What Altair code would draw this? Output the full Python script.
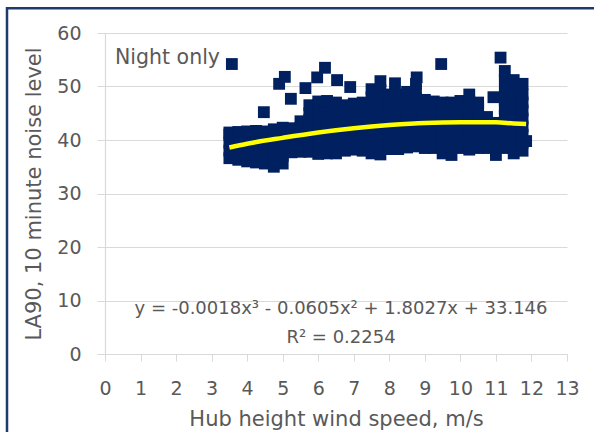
import altair as alt
import pandas as pd

# ---- data ----
# dense cloud: one x column with the y values stacked in it
col_x = [3.5, 3.75, 4.0, 4.25, 4.5, 4.75, 5.0, 5.25, 5.5, 5.75, 6.0, 6.25, 6.5, 6.75,
         7.0, 7.25, 7.5, 7.75, 8.0, 8.25, 8.5, 8.75, 9.0, 9.25, 9.5, 9.75, 10.0,
         10.25, 10.5, 10.75, 11.0, 11.25, 11.5, 11.75]
col_y = [
    [36.6, 38.0, 39.5, 41.0, 41.4],
    [36.3, 37.8, 39.3, 40.8, 41.5],
    [36.0, 37.5, 39.0, 40.5, 41.6],
    [35.8, 37.3, 38.8, 40.3, 41.7],
    [35.6, 37.0, 38.6, 40.1, 41.6],
    [35.0, 36.5, 38.0, 39.5, 41.0, 42.0],
    [35.6, 37.0, 38.5, 40.0, 41.5, 42.3],
    [37.7, 39.2, 40.7, 42.2],
    [37.8, 39.3, 40.8, 42.3, 43.5],
    [37.8, 39.3, 40.8, 42.3, 43.8, 45.0, 46.5],
    [37.4, 38.9, 40.4, 41.9, 43.4, 44.9, 46.5, 47.2],
    [37.5, 39.0, 40.5, 42.0, 43.5, 45.0, 46.5, 47.3],
    [37.5, 39.0, 40.5, 42.0, 43.5, 45.0, 46.5, 47.0],
    [38.0, 39.5, 41.0, 42.5, 44.0, 45.5, 46.5],
    [38.2, 39.7, 41.2, 42.7, 44.2, 45.7, 46.8],
    [38.0, 39.5, 41.0, 42.5, 44.0, 45.5, 47.0],
    [37.5, 39.0, 40.5, 42.0, 43.5, 45.0, 46.5, 48.0, 49.5],
    [37.3, 38.8, 40.3, 41.8, 43.3, 44.8, 46.3, 47.8, 49.3, 51.0],
    [38.3, 39.8, 41.3, 42.8, 44.3, 45.8, 47.3, 48.5],
    [38.3, 39.8, 41.3, 42.8, 44.3, 45.8, 47.3, 48.5],
    [38.6, 40.1, 41.6, 43.1, 44.6, 46.1, 47.6, 49.0],
    [38.8, 40.3, 41.8, 43.3, 44.8, 46.3, 47.8, 49.3, 50.5],
    [38.5, 40.0, 41.5, 43.0, 44.5, 46.0, 47.5],
    [38.5, 40.0, 41.5, 43.0, 44.5, 46.0, 47.2],
    [37.5, 39.0, 40.5, 42.0, 43.5, 45.0, 46.5, 47.0],
    [37.2, 38.7, 40.2, 41.7, 43.2, 44.7, 46.2, 47.0],
    [38.5, 40.0, 41.5, 43.0, 44.5, 46.0, 47.3],
    [38.2, 39.7, 41.2, 42.7, 44.2, 45.7, 47.2, 48.5],
    [38.5, 40.0, 41.5, 43.0, 44.5, 46.0, 47.0],
    [38.5, 40.0, 41.5, 43.0, 44.3],
    [37.2, 38.7, 40.2, 41.7, 43.2],
    [38.5, 40.0, 41.5, 43.0, 44.5, 46.0, 47.5, 49.0, 51.2, 52.9],
    [37.5, 39.0, 40.5, 42.0, 43.5, 45.0, 46.5, 48.0, 49.5, 51.2],
    [38.0, 39.5, 41.0, 42.5, 44.0, 45.5, 47.0, 48.5, 50.5],
]
# isolated points
outlier_x = [3.57, 4.47, 4.90, 5.06, 5.23, 5.64, 5.97, 6.19, 6.53, 6.90, 8.16, 8.77, 9.46, 10.93, 11.13, 11.85]
outlier_y = [54.2, 45.2, 50.5, 51.8, 47.7, 49.7, 51.7, 53.5, 51.2, 49.9, 50.6, 51.7, 54.2, 48.0, 55.4, 39.8]

# cubic trend line
trend_x = [3.5, 4.0, 5.0, 6.0, 7.0, 8.0, 9.0, 10.0, 10.5, 11.0, 11.5, 11.85]
trend_y = [38.6, 39.3, 40.4, 41.4, 42.2, 42.8, 43.2, 43.3, 43.3, 43.3, 43.1, 43.0]

x_ticks = list(range(0, 14))
y_ticks = [0, 10, 20, 30, 40, 50, 60]

label_night = "Night only"
label_eq = "y = -0.0018x³ - 0.0605x² + 1.8027x + 33.146"
label_r2 = "R² = 0.2254"

# ---- tables ----
wx, wy = [], []
for xv, ys in zip(col_x, col_y):
    for yv in ys:
        wx.append(xv)
        wy.append(yv)
wx += outlier_x
wy += outlier_y
pts = pd.DataFrame({"speed": wx, "la90": wy})
trend = pd.DataFrame({"speed": trend_x, "la90": trend_y})

FONT = "DejaVu Sans"
GREY = "#595959"
GRID = "#d9d9d9"

xs = alt.Scale(domain=[0, 13], nice=False)
ys_ = alt.Scale(domain=[0, 60], nice=False)

x_axis = alt.Axis(values=x_ticks, title="Hub height wind speed, m/s", grid=False,
                  tickSize=7, labelPadding=18, titlePadding=10,
                  labelOverlap=False, labelFlush=False, labelBound=False)
y_axis = alt.Axis(values=y_ticks, title="LA90, 10 minute noise level", grid=True,
                  tickSize=8, labelPadding=16, titlePadding=12,
                  labelOverlap=False, labelFlush=False)

scatter = alt.Chart(pts).mark_square(size=140, color="#002060", opacity=1).encode(
    x=alt.X("speed:Q", scale=xs, axis=x_axis),
    y=alt.Y("la90:Q", scale=ys_, axis=y_axis),
)

line = alt.Chart(trend).mark_line(color="#FFFF00", strokeWidth=4.5, interpolate="monotone").encode(
    x=alt.X("speed:Q", scale=xs, axis=x_axis),
    y=alt.Y("la90:Q", scale=ys_, axis=y_axis),
)

night = alt.Chart(pd.DataFrame({"t": [label_night]})).mark_text(
    align="left", baseline="middle", font=FONT, fontSize=20.5, color=GREY
).encode(text="t:N", x=alt.value(10), y=alt.value(25))

eq = alt.Chart(pd.DataFrame({"t": [label_eq]})).mark_text(
    align="center", baseline="middle", font=FONT, fontSize=18, color=GREY
).encode(text="t:N", x=alt.value(236), y=alt.value(276))

r2 = alt.Chart(pd.DataFrame({"t": [label_r2]})).mark_text(
    align="center", baseline="middle", font=FONT, fontSize=18, color=GREY
).encode(text="t:N", x=alt.value(236), y=alt.value(305))

frame = alt.Chart(pd.DataFrame({"a": [0]})).mark_rect(
    fillOpacity=0, stroke="#1F3A6E", strokeWidth=2.5
).encode(x=alt.value(-98), y=alt.value(-24.7), x2=alt.value(700), y2=alt.value(700))

chart = alt.layer(scatter, line, night, eq, r2, frame).properties(
    width=462, height=321,
    autosize=alt.AutoSizeParams(type="none"),
    padding={"left": 105, "top": 33, "right": 27, "bottom": 78},
    background="white",
).configure_view(stroke=None).configure_axis(
    labelFont=FONT, titleFont=FONT, labelFontSize=19, titleFontSize=21,
    labelColor=GREY, titleColor=GREY, titleFontWeight="normal",
    domainColor=GRID, tickColor=GRID, gridColor=GRID, gridWidth=1.2, domainWidth=1.2,
    labelOverlap=False,
)

chart.save("out.html", embed_options={"renderer": "svg", "actions": False})
